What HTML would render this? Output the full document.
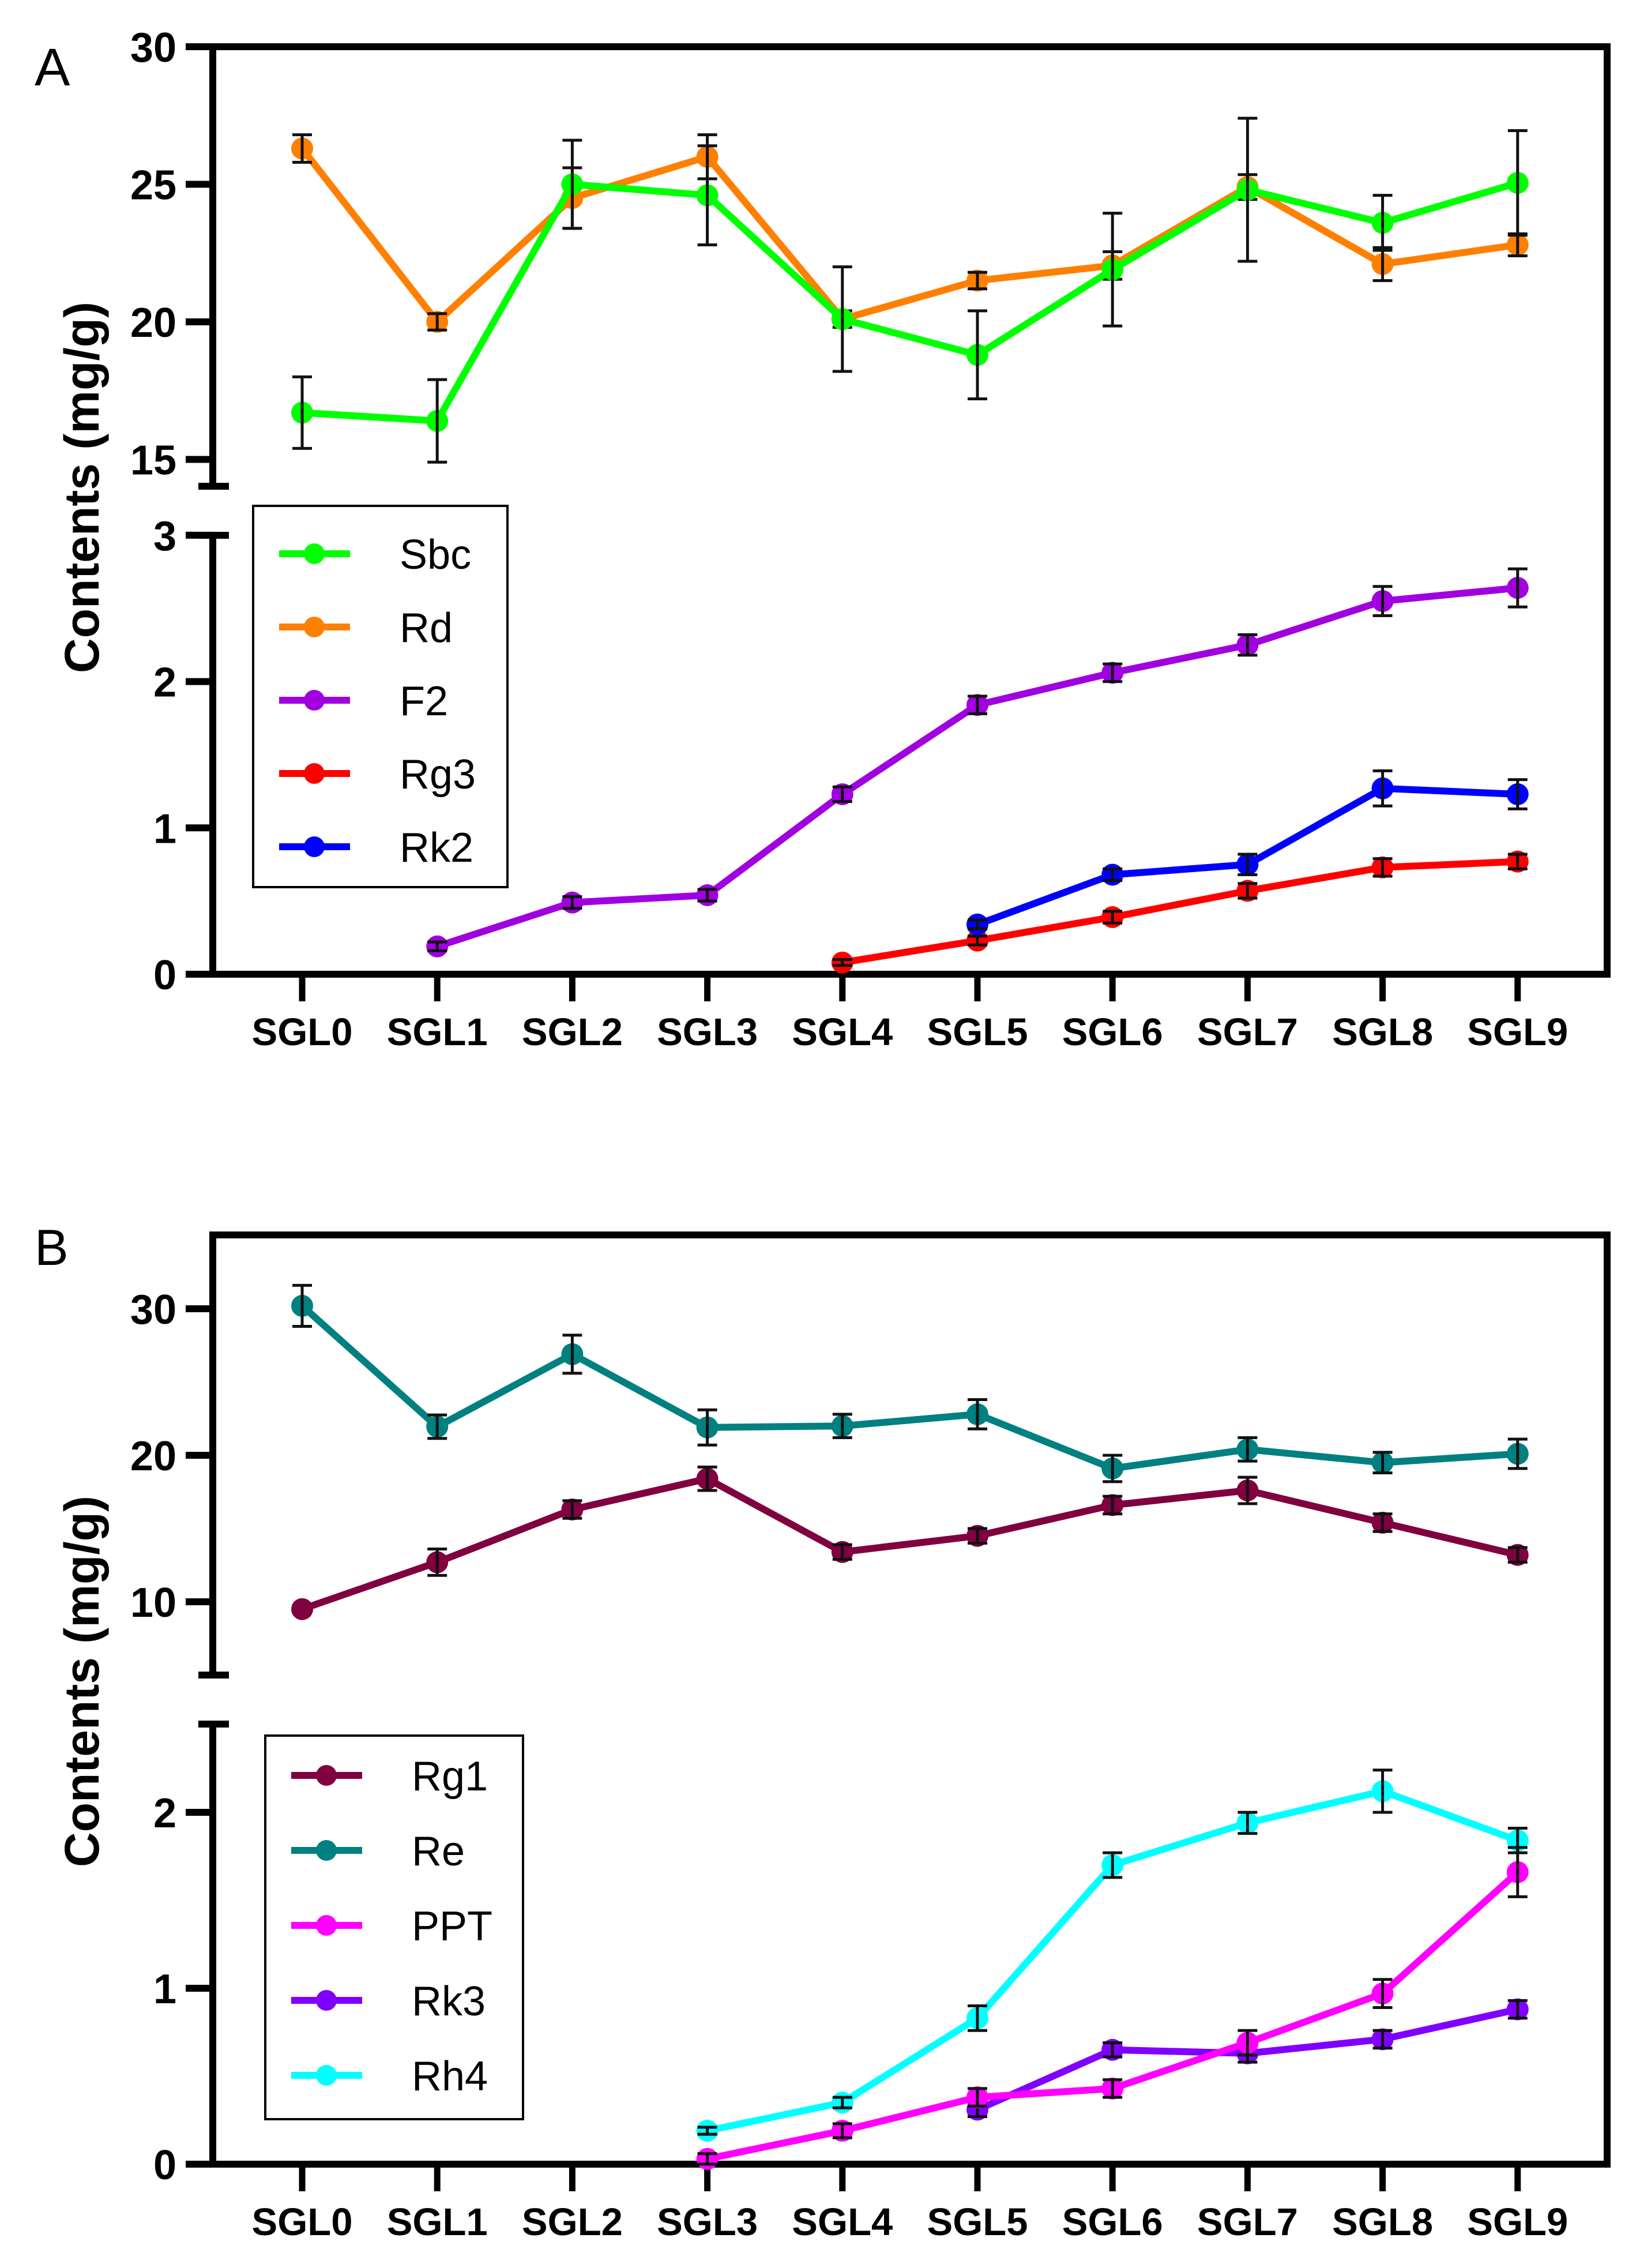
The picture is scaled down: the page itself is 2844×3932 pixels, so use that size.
<!DOCTYPE html>
<html><head><meta charset="utf-8"><style>
html,body{margin:0;padding:0;background:#fff;}
svg{display:block;}
text{font-family:"Liberation Sans",Arial,sans-serif;}
</style></head>
<body>
<svg id="chart" width="2844" height="3932" viewBox="0 0 2844 3932" xmlns="http://www.w3.org/2000/svg">
<text x="60" y="148" font-size="92">A</text>
<text x="60" y="2193" font-size="88">B</text>
<g id="panelA"></g>
<g id="panelB"></g>
</svg>
<script>
const categories = ["SGL0","SGL1","SGL2","SGL3","SGL4","SGL5","SGL6","SGL7","SGL8","SGL9"];
// Panel A
const sbcVals = [16.7,16.4,25.0,24.6,20.1,18.8,21.9,24.8,23.6,25.05];
const sbcErr  = [1.3,1.5,1.6,1.8,1.9,1.6,2.05,2.6,1.0,1.9];
const rdVals  = [26.3,20.0,24.5,26.0,20.1,21.5,22.05,24.9,22.1,22.8];
const rdErr   = [0.5,0.3,1.1,0.8,0.3,0.3,0.5,0.45,0.6,0.4];
const f2Vals  = [null,0.19,0.49,0.54,1.23,1.84,2.06,2.25,2.55,2.64];
const f2Err   = [0,0.03,0.04,0.04,0.05,0.06,0.06,0.07,0.1,0.13];
const rg3Vals = [null,null,null,null,0.08,0.23,0.39,0.57,0.73,0.77];
const rg3Err  = [0,0,0,0,0.02,0.03,0.04,0.05,0.06,0.05];
const rk2Vals = [null,null,null,null,null,0.34,0.68,0.75,1.27,1.23];
const rk2Err  = [0,0,0,0,0,0.03,0.04,0.07,0.12,0.1];
const aUpperTicks = [15,20,25,30];
const aLowerTicks = [0,1,2,3];
// Panel B
const rg1Vals = [9.5,12.7,16.3,18.4,13.4,14.5,16.6,17.6,15.4,13.2];
const rg1Err  = [0,0.9,0.6,0.8,0.5,0.5,0.6,0.9,0.6,0.5];
const reVals  = [30.2,21.95,26.9,21.9,22.0,22.8,19.1,20.4,19.5,20.1];
const reErr   = [1.4,0.8,1.3,1.2,0.8,1.0,0.9,0.8,0.7,1.0];
const pptVals = [null,null,null,0.03,0.19,0.38,0.43,0.69,0.97,1.66];
const pptErr  = [0,0,0,0.03,0.04,0.05,0.05,0.07,0.08,0.14];
const rk3Vals = [null,null,null,null,null,0.31,0.65,0.63,0.71,0.88];
const rk3Err  = [0,0,0,0,0,0.04,0.04,0.05,0.05,0.05];
const rh4Vals = [null,null,null,0.19,0.35,0.83,1.70,1.94,2.12,1.84];
const rh4Err  = [0,0,0,0.02,0.03,0.07,0.07,0.06,0.12,0.07];
const bUpperTicks = [10,20,30];
const bLowerTicks = [0,1,2];

const NS="http://www.w3.org/2000/svg";
function mk(parent,tag,attrs){const e=document.createElementNS(NS,tag);for(const k in attrs)e.setAttribute(k,attrs[k]);parent.appendChild(e);return e;}
const AXX=369, RX=2787, X0=524, XSTEP=234.2;
function xs(i){return X0+i*XSTEP;}

function drawPanel(g,cfg){
  const up=v=>cfg.upY0+(cfg.upMax-v)*cfg.upK;
  const lo=v=>cfg.base-v*cfg.loK;
  let e;
  e=mk(g,'line',{x1:322,y1:cfg.top,x2:RX+6,y2:cfg.top,stroke:'#000','stroke-width':12});
  if(!cfg.topTick){e.setAttribute('x1',AXX-6);}
  
  
  e=mk(g,'line',{x1:RX,y1:cfg.top,x2:RX,y2:cfg.base,stroke:'#000','stroke-width':12});
  
  
  e=mk(g,'line',{x1:322,y1:cfg.base,x2:RX+6,y2:cfg.base,stroke:'#000','stroke-width':12});
  
  
  e=mk(g,'line',{x1:AXX,y1:cfg.top,x2:AXX,y2:cfg.upEnd,stroke:'#000','stroke-width':12});
  
  
  e=mk(g,'line',{x1:344,y1:cfg.upEnd,x2:397,y2:cfg.upEnd,stroke:'#000','stroke-width':12});
  
  
  e=mk(g,'line',{x1:AXX,y1:cfg.loTop,x2:AXX,y2:cfg.base,stroke:'#000','stroke-width':12});
  
  
  e=mk(g,'line',{x1:344,y1:cfg.loTop,x2:397,y2:cfg.loTop,stroke:'#000','stroke-width':12});
  
  
  cfg.upTicks.forEach(v=>{const y=up(v);
    e=mk(g,'line',{x1:322,y1:y,x2:AXX,y2:y,stroke:'#000','stroke-width':12});
    
    
    e=mk(g,'text',{x:306,y:y+26,'font-size':72,'font-weight':'bold','text-anchor':'end'});e.textContent=v;
    
    
  });
  cfg.loTicks.forEach(v=>{const y=lo(v);
    if(v!==0){e=mk(g,'line',{x1:322,y1:y,x2:AXX,y2:y,stroke:'#000','stroke-width':12});
    
    }
    e=mk(g,'text',{x:306,y:y+26,'font-size':72,'font-weight':'bold','text-anchor':'end'});e.textContent=v;
    
    
  });
  categories.forEach((c,i)=>{const x=xs(i);
    e=mk(g,'line',{x1:x,y1:cfg.base,x2:x,y2:cfg.base+47,stroke:'#000','stroke-width':11});
    
    
    e=mk(g,'text',{x:x,y:cfg.base+123,'font-size':67,'font-weight':'bold','text-anchor':'middle'});e.textContent=c;
    
    
  });
  e=mk(g,'text',{x:0,y:0,'font-size':84,'font-weight':'bold','text-anchor':'middle',transform:`translate(171,${cfg.titleY}) rotate(-90)`});
  e.textContent='Contents (mg/g)';
  
  
  cfg.series.forEach(s=>{
    const sc = s.upper?up:lo;
    const sg=mk(g,'g',{});
    
    
    const pts=[];
    s.vals.forEach((v,i)=>{if(v!==null)pts.push([xs(i),sc(v),i]);});
    const ln=mk(sg,'polyline',{points:pts.map(p=>p[0]+','+p[1]).join(' '),fill:'none',stroke:s.color,'stroke-width':12,'stroke-linejoin':'round'});
    
    
    pts.forEach(p=>{
      const c=mk(sg,'circle',{cx:p[0],cy:p[1],r:19,fill:s.color});
      
      
    });
    pts.forEach(p=>{const er=s.err[p[2]]; if(!er)return;
      const v=s.vals[p[2]]; const y1=sc(v+er), y2=sc(v-er), x=p[0];
      const eb=mk(sg,'path',{d:`M${x},${y1}V${y2}M${x-17},${y1}H${x+17}M${x-17},${y2}H${x+17}`,stroke:'#111','stroke-width':5,fill:'none'});
      
      
    });
  });
  const L=cfg.legend;
  e=mk(g,'rect',{x:L.x,y:L.y,width:L.w,height:L.h,fill:'#fff',stroke:'#000','stroke-width':4});
  
  
  cfg.legendOrder.forEach((s,k)=>{const y=L.first+k*L.step;
    const lg=mk(g,'g',{});
    
    
    mk(lg,'line',{x1:L.x+45,y1:y,x2:L.x+168,y2:y,stroke:s.color,'stroke-width':12});
    mk(lg,'circle',{cx:L.x+106,cy:y,r:18,fill:s.color});
    const t=mk(lg,'text',{x:L.x+254,y:y+26,'font-size':72});t.textContent=s.name;
  });
}

const Sbc={name:'Sbc',color:'#00ff00',vals:sbcVals,err:sbcErr,upper:true};
const Rd={name:'Rd',color:'#ff8000',vals:rdVals,err:rdErr,upper:true};
const F2={name:'F2',color:'#a000e0',vals:f2Vals,err:f2Err};
const Rg3={name:'Rg3',color:'#ff0000',vals:rg3Vals,err:rg3Err};
const Rk2={name:'Rk2',color:'#0000ff',vals:rk2Vals,err:rk2Err};
drawPanel(document.getElementById('panelA'),{
  top:81, base:1689, upY0:81, upMax:30, upK:47.7, upEnd:843, loTop:928, loK:253.7,
  upTicks:aUpperTicks, loTicks:aLowerTicks, topTick:true, titleY:845,
  series:[Rd,Sbc,F2,Rg3,Rk2], legendOrder:[Sbc,Rd,F2,Rg3,Rk2],
  legend:{x:439,y:877,w:441,h:661,first:960,step:127}
});
const Rg1={name:'Rg1',color:'#800040',vals:rg1Vals,err:rg1Err,upper:true};
const Re={name:'Re',color:'#008080',vals:reVals,err:reErr,upper:true};
const PPT={name:'PPT',color:'#ff00ff',vals:pptVals,err:pptErr};
const Rk3={name:'Rk3',color:'#8000ff',vals:rk3Vals,err:rk3Err};
const Rh4={name:'Rh4',color:'#00ffff',vals:rh4Vals,err:rh4Err};
drawPanel(document.getElementById('panelB'),{
  top:2141, base:3752, upY0:2269, upMax:30, upK:25.4, upEnd:2904, loTop:2989, loK:305,
  upTicks:bUpperTicks, loTicks:bLowerTicks, topTick:false, titleY:2915,
  series:[Re,Rg1,Rh4,Rk3,PPT], legendOrder:[Rg1,Re,PPT,Rk3,Rh4],
  legend:{x:460,y:3009,w:447,h:665,first:3078,step:130}
});
</script>
</body></html>
